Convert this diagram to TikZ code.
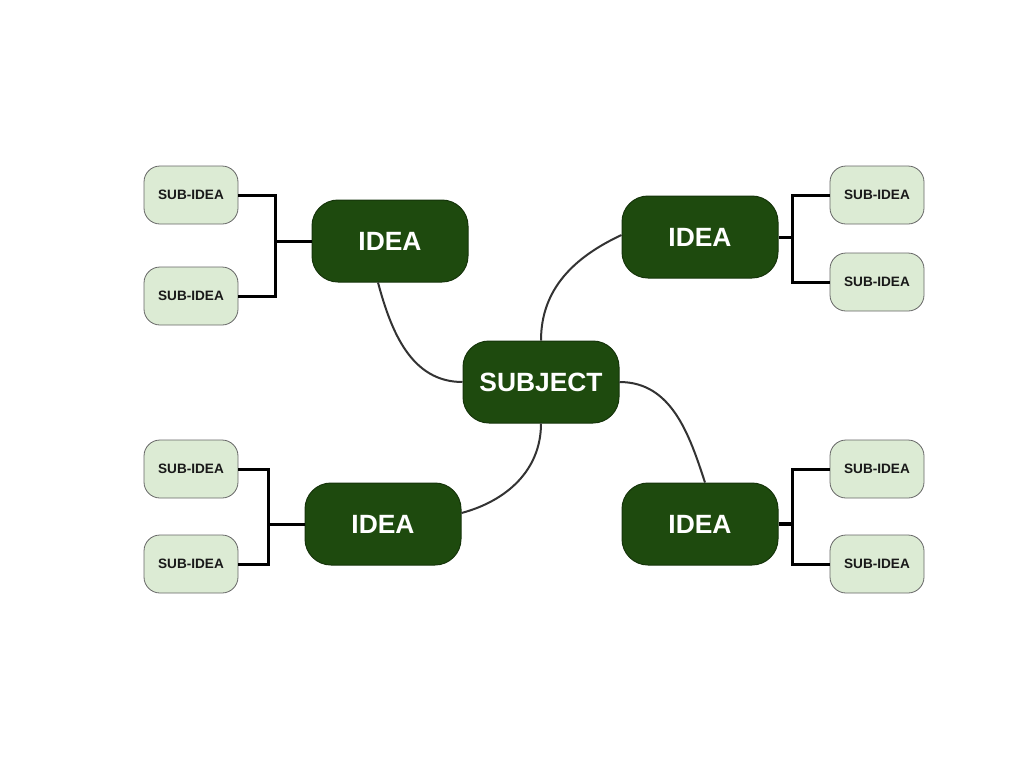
\documentclass[tikz,border=0pt]{standalone}
\usepackage{fontspec}
\setmainfont{Liberation Sans}
\usetikzlibrary{positioning, shapes.geometric}
\definecolor{ideagreen}{HTML}{1E4A0E}
\definecolor{subgreen}{HTML}{DCEBD4}

\begin{document}
\begin{tikzpicture}[
    x=0.5pt, y=-0.5pt,
    every node/.style={align=center, font=\bfseries},
    idea/.style={rectangle, rounded corners=13pt, draw=ideagreen!70!black, fill=ideagreen, text=white, minimum width=78pt, minimum height=41pt, line width=0.5pt, font=\fontsize{13.2}{15}\selectfont\bfseries},
    subidea/.style={rectangle, rounded corners=8pt, draw=black!60, fill=subgreen, text=black!90, minimum width=47pt, minimum height=29pt, line width=0.4pt, font=\fontsize{6.8}{8}\selectfont\bfseries},
    branch/.style={line width=1pt, draw=black!80},
    bracket/.style={line width=1.5pt, draw=black}
]
\useasboundingbox (0,0) rectangle (1024,768);

% --- Nodos principales
\node[idea] (subject) at (541,382) {SUBJECT};
\node[idea] (ideaTL) at (390,241) {IDEA};
\node[idea] (ideaTR) at (700,237) {IDEA};
\node[idea] (ideaBL) at (383,524) {IDEA};
\node[idea] (ideaBR) at (700,524) {IDEA};

% --- Sub-ideas
\node[subidea] (subTL1) at (191,195) {SUB-IDEA};
\node[subidea] (subTL2) at (191,296) {SUB-IDEA};
\node[subidea] (subTR1) at (877,195) {SUB-IDEA};
\node[subidea] (subTR2) at (877,282) {SUB-IDEA};
\node[subidea] (subBL1) at (191,469) {SUB-IDEA};
\node[subidea] (subBL2) at (191,564) {SUB-IDEA};
\node[subidea] (subBR1) at (877,469) {SUB-IDEA};
\node[subidea] (subBR2) at (877,564) {SUB-IDEA};

% --- Ramas curvas
\draw[branch] ([xshift=-6pt]ideaTL.south) to[out=-75, in=180] (subject.west);
\draw[branch] (subject.north) to[out=90, in=205] ([yshift=1pt]ideaTR.west);
\draw[branch] (subject.east) to[out=0, in=108] ([xshift=2.5pt]ideaBR.north);
\draw[branch] (subject.south) to[out=-90, in=15] ([yshift=5.5pt]ideaBL.east);

% Corchetes hacia las sub-ideas
\coordinate (jTL) at (275,241);
\coordinate (jTR) at (792,237);
\coordinate (jBL) at (268,524);
\coordinate (jBR) at (792,524);

\draw[bracket] (subTL1.east) -| (jTL) |- (subTL2.east);
\draw[bracket] (jTL) -- (ideaTL.west);
\draw[bracket] (subTR1.west) -| (jTR) |- (subTR2.west);
\draw[bracket] (jTR) -- (ideaTR.east);
\draw[bracket] (subBL1.east) -| (jBL) |- (subBL2.east);
\draw[bracket] (jBL) -- (ideaBL.west);
\draw[bracket] (subBR1.west) -| (jBR) |- (subBR2.west);
\draw[bracket, line width=2.2pt] (jBR) -- (ideaBR.east);

\end{tikzpicture}
\end{document}
